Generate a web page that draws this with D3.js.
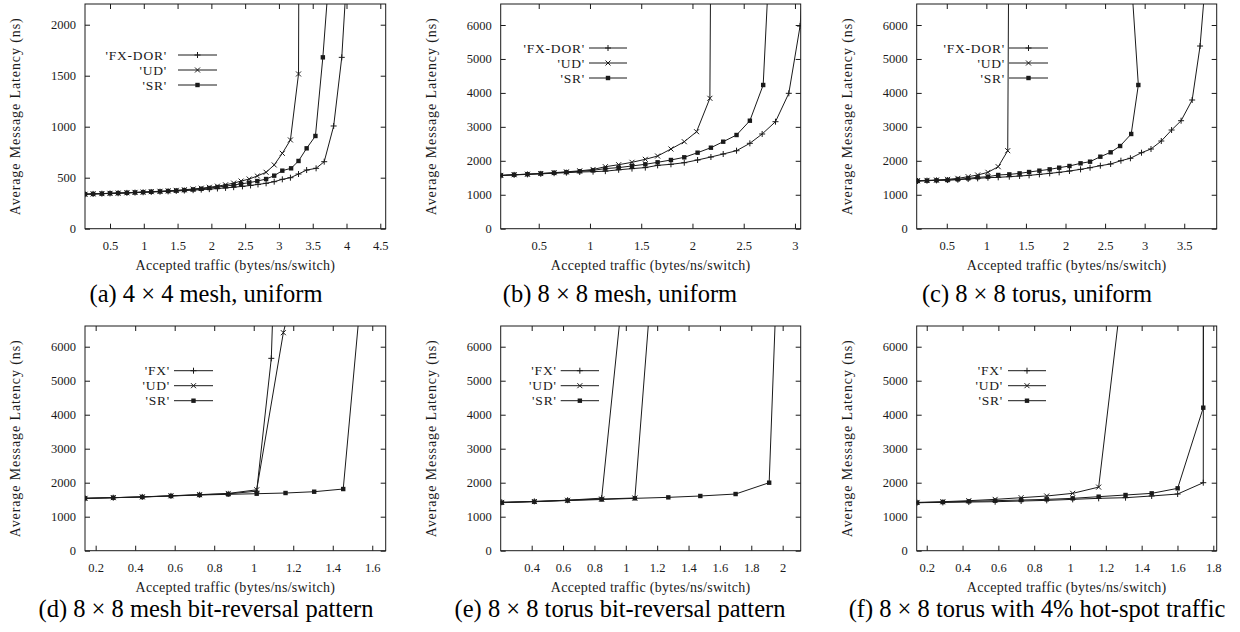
<!DOCTYPE html>
<html>
<head>
<meta charset="utf-8">
<script src="https://cdn.jsdelivr.net/npm/d3@7"></script>
<style>
  body { margin: 0; background: #fff; }
  svg { display: block; }
  svg text { font-family: 'Liberation Serif', 'Times New Roman', serif; }
</style>
</head>
<body>
<div id="wrapper"></div>
<script>
'use strict';

//#region DATA
// [accepted traffic, average latency]
const aFX = [[0.13,338],[0.25,341],[0.38,343],[0.50,346],[0.62,348],[0.75,351],[0.87,354],[0.99,357],[1.11,360],[1.24,363],[1.36,366],[1.48,370],[1.60,374],[1.73,378],[1.85,383],[1.97,388],[2.09,394],[2.21,400],[2.33,407],[2.46,415],[2.58,424],[2.69,434],[2.81,445],[2.93,461],[3.05,484],[3.17,500],[3.29,536],[3.41,575],[3.55,592],[3.67,657],[3.81,1007],[3.93,1680],[4.05,3000]];
const aUD = [[0.13,338],[0.25,341],[0.38,344],[0.50,347],[0.62,349],[0.75,352],[0.87,356],[0.99,359],[1.11,363],[1.24,367],[1.36,371],[1.48,376],[1.60,382],[1.73,389],[1.85,397],[1.97,406],[2.09,417],[2.21,430],[2.33,447],[2.44,467],[2.56,487],[2.68,517],[2.81,553],[2.93,625],[3.05,739],[3.17,870],[3.29,1517],[3.31,6000]];
const aSR = [[0.13,338],[0.25,341],[0.38,344],[0.50,347],[0.62,349],[0.75,352],[0.87,355],[0.99,358],[1.11,362],[1.24,365],[1.36,369],[1.48,373],[1.60,378],[1.73,384],[1.85,391],[1.97,399],[2.09,408],[2.21,418],[2.33,428],[2.44,440],[2.56,451],[2.68,467],[2.81,487],[2.93,520],[3.05,569],[3.18,592],[3.29,664],[3.41,788],[3.54,909],[3.65,1680],[3.80,3000]];

const bFX = [[0.13,1565],[0.26,1585],[0.39,1600],[0.52,1615],[0.65,1635],[0.77,1650],[0.90,1670],[1.03,1680],[1.15,1695],[1.28,1735],[1.41,1770],[1.54,1800],[1.66,1865],[1.79,1897],[1.92,1944],[2.05,2024],[2.18,2112],[2.30,2200],[2.43,2298],[2.56,2515],[2.68,2790],[2.81,3152],[2.94,3988],[3.05,5970],[3.12,9000]];
const bUD = [[0.13,1570],[0.26,1590],[0.39,1605],[0.52,1625],[0.65,1650],[0.77,1675],[0.90,1705],[1.03,1745],[1.15,1826],[1.28,1885],[1.41,1956],[1.54,2044],[1.66,2141],[1.79,2348],[1.92,2563],[2.04,2857],[2.17,3841],[2.18,9000]];
const bSR = [[0.13,1570],[0.26,1590],[0.39,1605],[0.52,1625],[0.65,1645],[0.77,1665],[0.90,1690],[1.03,1720],[1.15,1770],[1.28,1800],[1.41,1848],[1.54,1897],[1.66,1956],[1.79,2024],[1.92,2103],[2.05,2239],[2.18,2386],[2.30,2563],[2.43,2760],[2.56,3181],[2.69,4233],[2.75,7900]];

const cFX = [[0.13,1405],[0.25,1415],[0.37,1424],[0.51,1433],[0.64,1443],[0.77,1463],[0.89,1483],[1.02,1503],[1.15,1513],[1.29,1532],[1.42,1552],[1.54,1571],[1.67,1600],[1.80,1630],[1.92,1660],[2.05,1699],[2.19,1748],[2.31,1797],[2.44,1856],[2.57,1906],[2.70,2003],[2.82,2074],[2.96,2239],[3.08,2348],[3.21,2583],[3.34,2907],[3.46,3181],[3.60,3791],[3.70,5381],[3.78,7650]];
const cUD = [[0.13,1415],[0.25,1424],[0.37,1435],[0.51,1453],[0.64,1483],[0.77,1532],[0.89,1582],[1.02,1661],[1.15,1826],[1.27,2298],[1.285,9000]];
const cSR = [[0.13,1405],[0.25,1415],[0.37,1424],[0.51,1433],[0.64,1453],[0.77,1483],[0.89,1513],[1.02,1532],[1.15,1582],[1.29,1600],[1.42,1630],[1.54,1670],[1.67,1709],[1.80,1748],[1.92,1797],[2.05,1847],[2.19,1926],[2.31,1974],[2.44,2121],[2.57,2250],[2.69,2436],[2.83,2790],[2.92,4233],[2.80,8450]];

const dFX = [[0.146,1540],[0.289,1559],[0.436,1582],[0.581,1612],[0.726,1645],[0.871,1672],[1.015,1750],[1.089,5658],[1.105,8500]];
const dUD = [[0.146,1540],[0.289,1560],[0.436,1584],[0.581,1615],[0.726,1648],[0.871,1685],[1.015,1790],[1.15,6412],[1.2,7600]];
const dSR = [[0.146,1540],[0.289,1559],[0.436,1579],[0.581,1609],[0.726,1638],[0.871,1658],[1.015,1676],[1.161,1697],[1.306,1735],[1.453,1814],[1.55,8000]];

const eFX = [[0.209,1425],[0.417,1450],[0.629,1485],[0.846,1545],[1.0,8500]];
const eUD = [[0.209,1420],[0.417,1445],[0.629,1483],[0.846,1520],[1.058,1550],[1.18,8800]];
const eSR = [[0.209,1412],[0.417,1441],[0.629,1475],[0.846,1505],[1.058,1540],[1.271,1569],[1.475,1609],[1.70,1667],[1.914,2000],[1.96,7700]];

const fFX = [[0.146,1412],[0.29,1420],[0.435,1431],[0.582,1441],[0.727,1461],[0.87,1480],[1.015,1510],[1.16,1540],[1.31,1559],[1.456,1609],[1.601,1667],[1.744,2000],[1.745,9000]];
const fUD = [[0.146,1420],[0.29,1441],[0.435,1471],[0.582,1510],[0.727,1559],[0.87,1609],[1.015,1687],[1.16,1870],[1.3,8100]];
const fSR = [[0.146,1412],[0.29,1431],[0.435,1451],[0.582,1471],[0.727,1490],[0.87,1510],[1.015,1540],[1.16,1589],[1.31,1638],[1.456,1687],[1.601,1834],[1.744,4206],[1.745,9000]];

const namesLong = ["'FX-DOR'", "'UD'", "'SR'"];
const namesShort = ["'FX'", "'UD'", "'SR'"];
const markerTypes = ['plus', 'cross', 'square'];

const xTicksA = [0.5, 1, 1.5, 2, 2.5, 3, 3.5, 4, 4.5];
const xTicksB = [0.5, 1, 1.5, 2, 2.5, 3];
const xTicksC = [0.5, 1, 1.5, 2, 2.5, 3, 3.5];
const xTicksD = [0.2, 0.4, 0.6, 0.8, 1, 1.2, 1.4, 1.6];
const xTicksE = [0.4, 0.6, 0.8, 1, 1.2, 1.4, 1.6, 1.8, 2];
const xTicksF = [0.2, 0.4, 0.6, 0.8, 1, 1.2, 1.4, 1.6, 1.8];
const yTicksSmall = [0, 500, 1000, 1500, 2000];
const yTicksBig = [0, 1000, 2000, 3000, 4000, 5000, 6000];

const captions = [
  '(a) 4 × 4 mesh, uniform',
  '(b) 8 × 8 mesh, uniform',
  '(c) 8 × 8 torus, uniform',
  '(d) 8 × 8 mesh bit-reversal pattern',
  '(e) 8 × 8 torus bit-reversal pattern',
  '(f) 8 × 8 torus with 4% hot-spot traffic'
];
//#endregion DATA

//#region LAYOUT
const row1 = {top: 4, bottom: 228.7, capY: 301.5};
const row2 = {top: 326, bottom: 550.7, capY: 616.5};
const col1 = {left: 85, right: 385.7, capX: 206};
const col2 = {left: 500.7, right: 800.7, capX: 620};
const col3 = {left: 916.7, right: 1216.7, capX: 1037};

const panels = [
  {row: row1, col: col1, series: [aFX, aUD, aSR], names: namesLong, xDomain: [0.13, 4.58], yDomain: [0, 2203],
   xTicks: xTicksA, yTicks: yTicksSmall, legend: {right: 167, x1: 178, x2: 217, ys: [55, 70, 85]}},
  {row: row1, col: col2, series: [bFX, bUD, bSR], names: namesLong, xDomain: [0.129, 3.056], yDomain: [0, 6619],
   xTicks: xTicksB, yTicks: yTicksBig, legend: {right: 585, x1: 589, x2: 627, ys: [48, 63, 78]}},
  {row: row1, col: col3, series: [cFX, cUD, cSR], names: namesLong, xDomain: [0.12, 3.91], yDomain: [0, 6619],
   xTicks: xTicksC, yTicks: yTicksBig, legend: {right: 1005, x1: 1009, x2: 1048, ys: [48, 63, 78]}},
  {row: row2, col: col1, series: [dFX, dUD, dSR], names: namesShort, xDomain: [0.146, 1.668], yDomain: [0, 6609],
   xTicks: xTicksD, yTicks: yTicksBig, legend: {right: 170, x1: 174, x2: 213, ys: [370.7, 385.7, 400.7]}},
  {row: row2, col: col2, series: [eFX, eUD, eSR], names: namesShort, xDomain: [0.2025, 2.115], yDomain: [0, 6609],
   xTicks: xTicksE, yTicks: yTicksBig, legend: {right: 556.7, x1: 560.7, x2: 599, ys: [370.7, 385.7, 400.7]}},
  {row: row2, col: col3, series: [fFX, fUD, fSR], names: namesShort, xDomain: [0.144, 1.819], yDomain: [0, 6609],
   xTicks: xTicksF, yTicks: yTicksBig, legend: {right: 1003, x1: 1008, x2: 1046, ys: [370.7, 385.7, 400.7]}}
];
//#endregion LAYOUT

//#region DRAW CANVAS
const svg = d3.select('#wrapper')
  .append('svg')
  .attr('width', 1240)
  .attr('height', 632);
//#endregion DRAW CANVAS

const ink = '#1a1a1a';
const serif = "'Liberation Serif', 'Times New Roman', serif";

function drawMarker (g, type, x, y) {
  if (type === 'plus') {
    g.append('path').attr('d', `M${x - 3},${y}H${x + 3}M${x},${y - 3}V${y + 3}`)
      .attr('stroke', ink).attr('stroke-width', 1).attr('fill', 'none');
  } else if (type === 'cross') {
    g.append('path').attr('d', `M${x - 2.5},${y - 2.5}L${x + 2.5},${y + 2.5}M${x - 2.5},${y + 2.5}L${x + 2.5},${y - 2.5}`)
      .attr('stroke', ink).attr('stroke-width', 1).attr('fill', 'none');
  } else {
    g.append('rect').attr('x', x - 2.2).attr('y', y - 2.2).attr('width', 4.4).attr('height', 4.4)
      .attr('fill', ink);
  }
}

function drawPanel (p, i) {
  const {left, right} = p.col;
  const {top, bottom} = p.row;
  const plotWidth = right - left;
  const plotHeight = bottom - top;

  //#region SCALES
  const xScale = d3.scaleLinear().domain(p.xDomain).range([left, right]);
  const yScale = d3.scaleLinear().domain(p.yDomain).range([bottom, top]);
  //#endregion SCALES

  const panel = svg.append('g').attr('font-family', serif);

  const clipId = `clip-${i}`;
  panel.append('clipPath').attr('id', clipId)
    .append('rect').attr('x', left).attr('y', top).attr('width', plotWidth).attr('height', plotHeight);

  //#region DRAW PERIPHERALS
  panel.append('g')
    .attr('transform', `translate(0,${bottom})`)
    .call(d3.axisBottom(xScale).tickValues(p.xTicks).tickFormat(d => String(d))
      .tickSizeInner(-5).tickSizeOuter(0).tickPadding(12));
  panel.append('g')
    .attr('transform', `translate(0,${top})`)
    .call(d3.axisTop(xScale).tickValues(p.xTicks).tickFormat('')
      .tickSizeInner(-5).tickSizeOuter(0));
  panel.append('g')
    .attr('transform', `translate(${left},0)`)
    .call(d3.axisLeft(yScale).tickValues(p.yTicks).tickFormat(d => String(d))
      .tickSizeInner(-5).tickSizeOuter(0).tickPadding(9));
  panel.append('g')
    .attr('transform', `translate(${right},0)`)
    .call(d3.axisRight(yScale).tickValues(p.yTicks).tickFormat('')
      .tickSizeInner(-5).tickSizeOuter(0));

  panel.selectAll('.domain').remove();
  panel.selectAll('g').filter(function () { return this.getAttribute('font-family') === 'sans-serif'; })
    .attr('font-family', serif).attr('font-size', 12.5);
  panel.selectAll('.tick line').attr('stroke', ink);
  panel.selectAll('.tick text').attr('fill', ink);

  panel.append('rect')
    .attr('x', left).attr('y', top)
    .attr('width', plotWidth).attr('height', plotHeight)
    .attr('fill', 'none').attr('stroke', ink).attr('stroke-width', 1);

  panel.append('text')
    .attr('x', (left + right) / 2)
    .attr('y', bottom + 41.5)
    .attr('text-anchor', 'middle')
    .attr('fill', ink)
    .attr('font-size', 14)
    .style('letter-spacing', '0.3px')
    .text('Accepted traffic (bytes/ns/switch)');

  panel.append('text')
    .attr('transform', `translate(${left - 69.5},${(top + bottom) / 2}) rotate(-90)`)
    .attr('dy', '0.35em')
    .attr('text-anchor', 'middle')
    .attr('fill', ink)
    .attr('font-size', 14)
    .style('letter-spacing', '0.9px')
    .text('Average Message Latency (ns)');

  panel.append('text')
    .attr('x', p.col.capX)
    .attr('y', p.row.capY)
    .attr('text-anchor', 'middle')
    .attr('fill', '#000')
    .attr('font-size', 24.5)
    .text(captions[i]);
  //#endregion DRAW PERIPHERALS

  //#region DRAW DATA
  const lineGenerator = d3.line()
    .x(d => xScale(d[0]))
    .y(d => yScale(d[1]));

  const plot = panel.append('g').attr('clip-path', `url(#${clipId})`);
  p.series.forEach((s, k) => {
    plot.append('path')
      .attr('d', lineGenerator(s))
      .attr('fill', 'none')
      .attr('stroke', ink)
      .attr('stroke-width', 1);
    const marks = plot.append('g');
    s.forEach(d => drawMarker(marks, markerTypes[k], xScale(d[0]), yScale(d[1])));
  });
  //#endregion DRAW DATA

  //#region LEGEND
  const lg = panel.append('g');
  p.names.forEach((name, k) => {
    const y = p.legend.ys[k];
    lg.append('text')
      .attr('x', p.legend.right)
      .attr('y', y)
      .attr('dy', '0.35em')
      .attr('text-anchor', 'end')
      .attr('fill', ink)
      .attr('font-size', 13.5)
      .style('letter-spacing', '0.8px')
      .text(name);
    lg.append('line')
      .attr('x1', p.legend.x1).attr('x2', p.legend.x2)
      .attr('y1', y).attr('y2', y)
      .attr('stroke', ink).attr('stroke-width', 1);
    drawMarker(lg, markerTypes[k], (p.legend.x1 + p.legend.x2) / 2, y);
  });
  //#endregion LEGEND
}

panels.forEach(drawPanel);
</script>
</body>
</html>
